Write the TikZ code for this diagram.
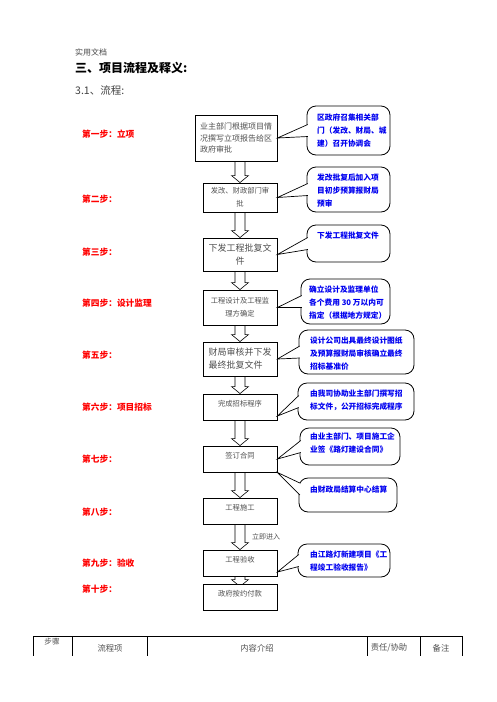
\documentclass[tikz,border=0pt]{standalone}
\usepackage{fontspec}
\newfontfamily\cjk{Noto Sans CJK SC}
\usetikzlibrary{calc}
\pgfdeclarelayer{bg}
\pgfdeclarelayer{paper}
\pgfsetlayers{paper,bg,main}
\definecolor{boxgray}{HTML}{505050}
\definecolor{cblue}{HTML}{0000F0}
\definecolor{sred}{HTML}{FF0000}
\newcommand\blockarrow[3]{%
  \draw[arrowline] let \p1=(#1), \p2=(#2) in
    (\x2-5pt,\y1) -- (\x2-5pt,\y2+7pt-#3) -- (\x2-8.5pt,\y2+7pt-#3) -- (\x2,\y2-#3)
    -- (\x2+8.5pt,\y2+7pt-#3) -- (\x2+5pt,\y2+7pt-#3) -- (\x2+5pt,\y1);}
\newcommand\calltail[3]{%
  \fill[white] (#1) -- ([xshift=1.2pt,yshift=#3+6pt]#2.west) -- ([xshift=1.2pt,yshift=#3-6pt]#2.west) -- cycle;
  \draw[tailline] ([xshift=1.2pt,yshift=#3+6pt]#2.west) -- (#1) -- ([xshift=1.2pt,yshift=#3-6pt]#2.west);}
\begin{document}
\begin{tikzpicture}[x=1pt,y=-1pt,
  box/.style={draw, line width=0.9pt, fill=white, inner sep=0pt, text=boxgray, align=center,
    minimum width=74pt, font=\cjk\fontsize{7.3}{13}\selectfont},
  sbox/.style={draw, line width=0.9pt, fill=white, inner sep=0pt, text=boxgray,
    minimum width=74pt, minimum height=26pt, text depth=8pt, font=\cjk\fontsize{7.3}{13}\selectfont},
  callout/.style={draw, line width=0.8pt, rounded corners=9pt, fill=white, inner sep=0pt},
  ctext/.style={anchor=west, inner sep=0pt, align=left, text=cblue, font=\cjk\bfseries\fontsize{7.7}{13}\selectfont},
  steplbl/.style={anchor=west, inner sep=0pt, text=sred, font=\cjk\bfseries\fontsize{8.7}{10}\selectfont},
  arrowline/.style={draw=black, line width=0.6pt, fill=white},
  tailline/.style={draw=black, line width=0.7pt},
  tblline/.style={line width=0.8pt},
  thead/.style={inner sep=0pt, text=boxgray, font=\cjk\fontsize{8.3}{10}\selectfont}]
\useasboundingbox (0,0) rectangle (496,702);
\begin{pgfonlayer}{paper}
\fill[white] (0,0) rectangle (496,702);
\end{pgfonlayer}

% header
\node[anchor=west, inner sep=0pt, text=black!70, font=\cjk\fontsize{8}{10}\selectfont] (hd) at (75,52) {实用文档};
\node[anchor=west, inner sep=0pt, font=\cjk\bfseries\fontsize{12}{14}\selectfont] (title) at (75,68) {三、项目流程及释义:};
\node[anchor=west, inner sep=0pt, text=black!75, font=\cjk\fontsize{10.5}{12}\selectfont] (sub) at (75,90) {3.1、流程:};

% step labels
\node[steplbl] (s1) at (82,134) {第一步：立项};
\node[steplbl] (s2) at (82,199) {第二步：};
\node[steplbl] (s3) at (82,252) {第三步：};
\node[steplbl] (s4) at (82,303) {第四步：设计监理};
\node[steplbl] (s5) at (82,355) {第五步：};
\node[steplbl] (s6) at (82,407) {第六步：项目招标};
\node[steplbl] (s7) at (82,459) {第七步：};
\node[steplbl] (s8) at (82,512) {第八步：};
\node[steplbl] (s9) at (82,563) {第九步：验收};
\node[steplbl] (s10) at (82,589) {第十步：};

% main boxes
\node[box, align=left, minimum width=82pt, minimum height=46pt, font=\cjk\fontsize{8}{11.5}\selectfont] (b1) at (236,138) {业主部门根据项目情\\况撰写立项报告给区\\政府审批};
\node[box, minimum height=29pt] (b2) at (240,197.5) {发改、财政部门审\\批};
\node[box, minimum height=33pt, font=\cjk\fontsize{9}{13}\selectfont] (b3) at (240,254.5) {下发工程批复文\\件};
\node[box, minimum height=35pt] (b4) at (240,307.5) {工程设计及工程监\\理方确定};
\node[box, align=left, minimum height=34pt, font=\cjk\fontsize{9}{13}\selectfont] (b5) at (240,359) {财局审核并下发\\最终批复文件};
\node[sbox] (b6) at (240,407) {完成招标程序};
\node[sbox] (b7) at (240,459) {签订合同};
\node[sbox] (b8) at (240,511) {工程施工};
\node[sbox] (b9) at (240,563) {工程验收};
\node[sbox] (b10) at (240,597) {政府按约付款};

% block arrows
\begin{pgfonlayer}{bg}
\blockarrow{b1.south}{b2.north}{0pt}
\blockarrow{b2.south}{b3.north}{0pt}
\blockarrow{b3.south}{b4.north}{0pt}
\blockarrow{b4.south}{b5.north}{0pt}
\blockarrow{b5.south}{b6.north}{0pt}
\blockarrow{b6.south}{b7.north}{0pt}
\blockarrow{b7.south}{b8.north}{0pt}
\blockarrow{b8.south}{b9.north}{0pt}
\blockarrow{b9.south}{b10.north}{3pt}
\end{pgfonlayer}
\node[anchor=west, inner sep=0pt, text=boxgray, font=\cjk\fontsize{7}{9}\selectfont] (go) at (252,537) {立即进入};

% callouts
\node[callout, minimum width=83pt, minimum height=49pt] (c1) at (348.5,130.5) {};
\node[callout, minimum width=83pt, minimum height=45pt] (c2) at (348.5,189.5) {};
\node[callout, minimum width=83pt, minimum height=37pt] (c3) at (348.5,243.5) {};
\node[callout, minimum width=89pt, minimum height=45pt] (c4) at (345.5,301.5) {};
\node[callout, minimum width=115pt, minimum height=44pt] (c5) at (356.5,352) {};
\node[callout, minimum width=116pt, minimum height=37pt] (c6) at (356,401.5) {};
\node[callout, minimum width=100pt, minimum height=37pt] (c7) at (350,446.5) {};
\node[callout, minimum width=98pt, minimum height=34pt] (c8) at (348,495) {};
\node[callout, minimum width=92pt, minimum height=33pt] (c9) at (344,560.5) {};

\coordinate (t6) at ([yshift=-9pt]b6.east);
\coordinate (t9) at ([yshift=-9pt]b9.east);
\calltail{b1.east}{c1}{0pt}
\calltail{b2.east}{c2}{0pt}
\calltail{b3.east}{c3}{0pt}
\calltail{b4.east}{c4}{0pt}
\calltail{b5.east}{c5}{0pt}
\calltail{t6}{c6}{0pt}
\calltail{b7.east}{c7}{0pt}
\calltail{b7.south east}{c8}{6pt}
\calltail{t9}{c9}{0pt}

\node[ctext] (c1t) at (317,130.3) {区政府召集相关部\\门（发改、财局、城\\建）召开协调会};
\node[ctext] (c2t) at (317,191) {发改批复后加入项\\目初步预算报财局\\预审};
\node[ctext] (c3t) at (317,235.5) {下发工程批复文件};
\node[ctext] (c4t) at (309,303) {确立设计及监理单位\\各个费用 30 万以内可\\指定（根据地方规定）};
\node[ctext] (c5t) at (310,354) {设计公司出具最终设计图纸\\及预算报财局审核确立最终\\招标基准价};
\node[ctext] (c6t) at (310,400) {由我司协助业主部门撰写招\\标文件，公开招标完成程序};
\node[ctext] (c7t) at (310,443.5) {由业主部门、项目施工企\\业签《路灯建设合同》};
\node[ctext] (c8t) at (310,490) {由财政局结算中心结算};
\node[ctext] (c9t) at (310,561) {由江路灯新建项目《工\\程竣工验收报告》};

% table header
\draw[tblline] (33,636) -- (462,636);
\foreach \xx in {33,72,147,367,420,462} \draw[tblline] (\xx,636) -- (\xx,656);
\node[thead, font=\cjk\fontsize{7.6}{10}\selectfont] (h1) at (52,642) {步骤};
\node[thead] (h2) at (110,648) {流程项};
\node[thead] (h3) at (257,648) {内容介绍};
\node[thead] (h4) at (389,648) {责任/协助};
\node[thead] (h5) at (441,648) {备注};
\end{tikzpicture}
\end{document}
